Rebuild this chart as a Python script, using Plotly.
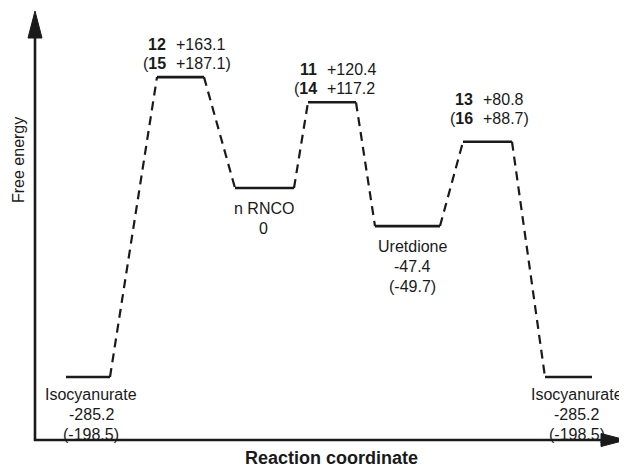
import plotly.graph_objects as go

# ---- data ----
stage_names = ["Isocyanurate", "12 / 15", "n RNCO", "11 / 14", "Uretdione", "13 / 16", "Isocyanurate"]
reaction_coord = [88, 180.5, 264.5, 332, 407.5, 487.5, 568.5]      # position along the reaction coordinate
drawn_level = [-278, 163, 0, 126, -56, 68, -278]                   # schematic level heights (not to scale)
energy_main = [-285.2, 163.1, 0, 120.4, -47.4, 80.8, -285.2]
energy_alt = [-198.5, 187.1, None, 117.2, -49.7, 88.7, -198.5]
ts_ids_main = [None, "12", None, "11", None, "13", None]
ts_ids_alt = [None, "15", None, "14", None, "16", None]
ts_alt_close = [None, True, None, False, None, True, None]

# ---- style ----
PAGE_W, PAGE_H = 627, 467
OFF = 8                      # default body margin of the html page
W, H = PAGE_W - OFF, PAGE_H - OFF
half_w = [22, 23.5, 29.5, 24, 32.5, 24.5, 23.5]
label_dx = [3, 0, -1, 0, 5, 0, 8]           # horizontal nudge of the text blocks
label_gap = [17, 14, 20, 14, 20, 23, 17]    # distance from bar to nearest text line centre
LINE = 19
INK = "#1a1a1a"
FONT = "Liberation Sans, Arial, sans-serif"
FS = 16

# y axis: energy units mapped so that 0 sits at page pixel 188, 0.68 px per unit
PX_PER = 0.68
Y0PX = 188
y_top = (Y0PX - OFF) / PX_PER
y_bot = (Y0PX - PAGE_H) / PX_PER


def paper_y(px):
    return 1 - (px - OFF) / H


fig = go.Figure()

# levels
for i in range(len(reaction_coord)):
    c, h = reaction_coord[i], half_w[i]
    fig.add_trace(go.Scatter(x=[c - h, c + h], y=[drawn_level[i], drawn_level[i]],
                             mode="lines", line=dict(color=INK, width=2.6),
                             hoverinfo="skip", showlegend=False))
# dashed connectors
for i in range(len(reaction_coord) - 1):
    x1 = reaction_coord[i] + half_w[i]
    x2 = reaction_coord[i + 1] - half_w[i + 1]
    fig.add_trace(go.Scatter(x=[x1, x2], y=[drawn_level[i], drawn_level[i + 1]],
                             mode="lines", line=dict(color=INK, width=2.2, dash="9px,6px"),
                             hoverinfo="skip", showlegend=False))

ann = []


def txt(x, y, s, shift, anchor="center"):
    ann.append(dict(x=x, y=y, xref="x", yref="y", text=s, showarrow=False,
                    xanchor=anchor, yanchor="middle", yshift=shift, borderpad=0,
                    font=dict(size=FS, color=INK, family=FONT)))


for i in range(len(reaction_coord)):
    c = reaction_coord[i] + label_dx[i]
    lv = drawn_level[i]
    g = label_gap[i]
    if ts_ids_main[i] is not None:
        alt = f"{energy_alt[i]:+.1f}" + (")" if ts_alt_close[i] else "")
        # upper line: main structure id and energy
        txt(c - 14, lv, f"<b>{ts_ids_main[i]}</b>", g + LINE, "right")
        txt(c - 6, lv, f"{energy_main[i]:+.1f}", g + LINE, "left")
        # lower line: alternative structure in parentheses
        txt(c - 14, lv, f"(<b>{ts_ids_alt[i]}</b>", g, "right")
        txt(c - 6, lv, alt, g, "left")
    else:
        lines = [stage_names[i], "0" if energy_main[i] == 0 else f"{energy_main[i]:.1f}"]
        if energy_alt[i] is not None:
            lines.append(f"({energy_alt[i]:.1f})")
        for k, s in enumerate(lines):
            txt(c, lv, s, -(g + k * 20))

# axis titles
ann.append(dict(x=331, y=paper_y(458), xref="x", yref="paper", text="<b>Reaction coordinate</b>",
                showarrow=False, xanchor="center", yanchor="middle",
                font=dict(size=18, color=INK, family=FONT)))
ann.append(dict(x=18, y=paper_y(160), xref="x", yref="paper", text="Free energy",
                showarrow=False, xanchor="center", yanchor="middle", textangle=-90,
                font=dict(size=16, color=INK, family=FONT)))

shapes = [
    # y axis
    dict(type="line", xref="x", yref="paper", x0=35, x1=35, y0=paper_y(441), y1=paper_y(34),
         line=dict(color=INK, width=2.6)),
    dict(type="path", xref="x", yref="paper",
         path=f"M 35 {paper_y(11)} L 42 {paper_y(38)} L 28 {paper_y(38)} Z",
         fillcolor=INK, line=dict(color=INK, width=1)),
    # x axis
    dict(type="line", xref="x", yref="paper", x0=34, x1=604, y0=paper_y(440), y1=paper_y(440),
         line=dict(color=INK, width=2.6)),
    dict(type="path", xref="x", yref="paper",
         path=f"M 626 {paper_y(440)} L 601 {paper_y(433.5)} L 601 {paper_y(446.5)} Z",
         fillcolor=INK, line=dict(color=INK, width=1)),
]

fig.update_layout(
    width=W, height=H, margin=dict(l=0, r=0, t=0, b=0),
    paper_bgcolor="white", plot_bgcolor="white",
    xaxis=dict(range=[OFF, PAGE_W], visible=False, fixedrange=True),
    yaxis=dict(range=[y_bot, y_top], visible=False, fixedrange=True),
    annotations=ann, shapes=shapes, showlegend=False,
)

fig.write_html("out.html")
